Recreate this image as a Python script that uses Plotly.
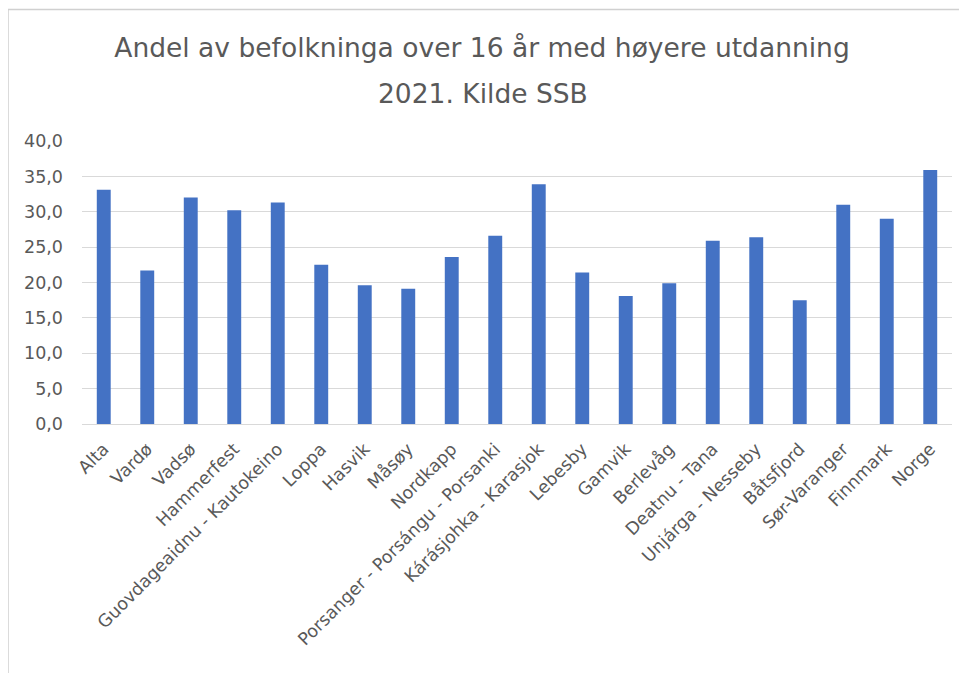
import plotly.graph_objects as go

kommuner = ["Alta", "Vardø", "Vadsø", "Hammerfest", "Guovdageaidnu - Kautokeino",
            "Loppa", "Hasvik", "Måsøy", "Nordkapp", "Porsanger - Porsángu - Porsanki",
            "Kárásjohka - Karasjok", "Lebesby", "Gamvik", "Berlevåg", "Deatnu - Tana",
            "Unjárga - Nesseby", "Båtsfjord", "Sør-Varanger", "Finnmark", "Norge"]
andel = [33.1, 21.7, 32.0, 30.2, 31.3,
         22.5, 19.6, 19.1, 23.6, 26.6,
         33.9, 21.4, 18.1, 19.9, 25.9,
         26.4, 17.5, 31.0, 29.0, 35.9]
y_ticks = [0, 5, 10, 15, 20, 25, 30, 35, 40]

title_line1 = "Andel av befolkninga over 16 år med høyere utdanning"
title_line2 = "2021. Kilde SSB"

FONT = "'DejaVu Sans', sans-serif"
GREY = "#595959"

OFF = 8  # page body margin offset
W, H = 967 - OFF, 673 - OFF
# target pixel positions in the window
PL, PR, PT, PB = 82, 952, 141, 424
L, T = PL - OFF, PT - OFF
R = W - (PR - OFF)
B = H - (PB - OFF)
pw, ph = W - L - R, H - T - B

def px_x(x):
    return (x - PL) / pw

def px_y(y):
    return (PB - y) / ph

fig = go.Figure(go.Bar(
    x=kommuner, y=andel,
    marker=dict(color="#4472C4", line=dict(width=0)),
))

fig.update_layout(
    width=W, height=H,
    margin=dict(l=L, r=R, t=T, b=B, autoexpand=False),
    paper_bgcolor="white", plot_bgcolor="white",
    separators=", ",
    bargap=0.68,
    showlegend=False,
    font=dict(family=FONT, color=GREY),
    title=dict(text=title_line1, x=(482 - OFF) / W, xanchor="center",
               y=1 - (48 - OFF) / H, yanchor="middle",
               font=dict(family=FONT, size=26.5, color=GREY)),
    annotations=[dict(text=title_line2, xref="paper", yref="paper",
                      x=px_x(483), y=px_y(94), xanchor="center", yanchor="middle",
                      showarrow=False, font=dict(family=FONT, size=26.5, color=GREY))],
    shapes=[dict(type="rect", xref="paper", yref="paper",
                 x0=px_x(8), x1=px_x(1000), y0=px_y(700), y1=px_y(9.5),
                 line=dict(color="#d0d0d0", width=1.5), layer="below")],
    xaxis=dict(tickangle=-45, tickfont=dict(family=FONT, size=17.5, color=GREY),
               showline=True, linecolor="#d9d9d9", linewidth=1,
               showgrid=False, ticks="", automargin=False,
               ticklabelstandoff=7),
    yaxis=dict(range=[0, 40], tickvals=y_ticks, tickformat=".1f",
               tickfont=dict(family=FONT, size=17.5, color=GREY),
               showgrid=True, gridcolor="#d9d9d9", gridwidth=1,
               zeroline=False, showline=False, ticks="",
               ticklabelstandoff=18, automargin=False),
)

fig.write_html("out.html")
